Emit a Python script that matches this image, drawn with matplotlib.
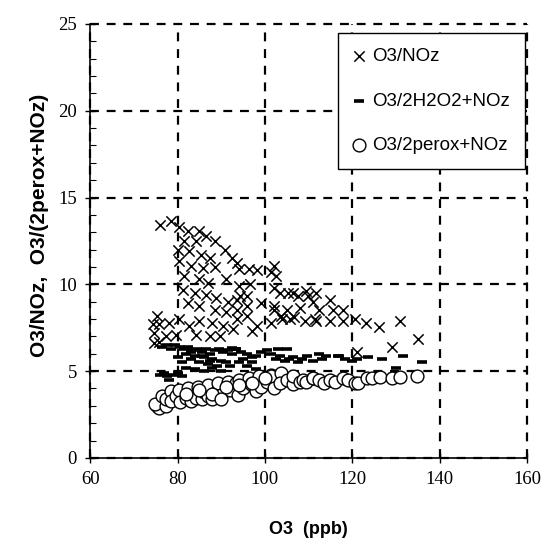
import numpy as np
import matplotlib.pyplot as plt

# O3/NOz  (crosses)
x_nox = [76.1, 78.4, 80.4, 82.3, 85.0, 86.6, 88.5, 81.6, 84.3, 90.9, 80.0, 82.7, 85.4, 87.4,
         92.4, 93.6, 80.4, 83.1, 85.8, 88.5, 96.3, 98.2, 102.1, 102.5, 101.3, 81.6, 85.0, 87.0,
         91.2, 94.0, 96.7, 102.1, 105.2, 107.5, 109.8, 111.8, 81.2, 83.9, 86.6, 88.9, 91.6, 94.3,
         95.9, 82.3, 85.0, 88.5, 91.2, 93.6, 102.1, 103.6, 106.7, 109.1, 111.4, 74.4, 75.7, 75.3,
         78.1, 80.4, 82.7, 85.0, 87.8, 90.5, 92.8, 74.6, 77.3, 75.7, 79.6, 84.3, 87.4, 89.7, 98.2,
         101.3, 104.0, 94.0, 93.7, 96.0, 93.7, 96.0, 103.5, 106.5, 109.5, 114.8, 102.0, 105.0, 108.0,
         111.0, 112.5, 115.5, 117.8, 105.8, 111.8, 114.8, 117.8, 120.7, 123.2, 126.1, 121.1, 129.1,
         131.0, 135.0, 74.6, 97.0, 99.0]
y_nox = [13.4, 13.65, 13.3, 13.1, 13.1, 12.8, 12.5, 12.5, 12.5, 12.0, 12.0, 11.9, 11.7, 11.5,
         11.5, 11.25, 11.35, 11.05, 10.96, 11.0, 10.9, 10.8, 11.05, 10.5, 10.7, 10.5, 10.3, 10.1,
         10.3, 9.9, 10.0, 9.8, 9.5, 9.3, 9.3, 9.5, 9.7, 9.5, 9.4, 9.2, 9.0, 9.3,
         8.75, 8.9, 8.75, 8.55, 8.4, 8.5, 8.75, 8.2, 8.1, 7.9, 8.0, 7.7, 7.7, 8.2,
         7.8, 8.0, 7.6, 7.9, 7.8, 7.6, 7.4, 7.2, 7.0, 6.7, 7.1, 7.1, 7.0, 7.0, 7.6,
         7.8, 8.0, 10.9, 9.1, 9.3, 8.0, 8.2, 9.5, 9.5, 9.6, 9.1, 8.55, 8.55, 8.65,
         9.0, 8.5, 8.5, 8.55, 8.0, 7.9, 7.9, 7.9, 8.0, 7.8, 7.55, 6.1, 6.4,
         7.9, 6.85, 6.6, 7.3, 8.9]

# O3/2H2O2+NOz  (dashes)
x_h2o2 = [76.5, 77.5, 78.5, 79.5, 80.5, 81.5, 82.5, 83.5, 84.5, 85.5, 86.5, 87.5, 88.5, 89.5,
          90.5, 91.5, 92.5, 93.5, 94.5, 82.0, 84.0, 86.0, 88.0, 90.0, 83.0, 85.0, 87.0, 89.0,
          91.0, 80.0, 81.0, 82.0, 84.0, 86.0, 88.0, 90.0, 92.0, 94.0, 77.0, 77.5, 78.0, 79.0,
          80.0, 81.0, 76.0, 96.0, 97.0, 98.0, 99.0, 100.5, 101.5, 102.5, 103.5, 104.5, 105.5,
          106.5, 107.5, 108.5, 109.6, 111.0, 113.0, 114.0, 116.8, 118.4, 120.0, 121.0, 123.6,
          126.7, 131.6, 130.0, 135.9, 96.0, 98.0, 97.0, 95.0, 92.5, 93.5, 103.0, 105.0, 112.5,
          117.0, 83.0, 85.5, 87.5]
y_h2o2 = [6.4, 6.5, 6.3, 6.5, 6.4, 6.3, 6.4, 6.2, 6.3, 6.1, 6.3, 6.0, 6.2, 6.3,
          6.1, 6.2, 6.0, 6.3, 6.1, 6.0, 5.9, 5.8, 5.7, 5.6, 5.7, 5.5, 5.4, 5.3,
          5.5, 5.8, 5.5, 5.2, 5.1, 5.0, 5.2, 5.0, 5.3, 5.5, 4.9, 4.7, 4.5, 4.8,
          4.9, 4.7, 4.8, 6.0, 5.8, 5.9, 6.1, 6.2, 6.0, 5.7, 5.9, 5.6, 5.7,
          5.8, 5.5, 5.7, 5.9, 5.6, 5.7, 5.9, 5.9, 5.7, 5.6, 5.7, 5.8,
          5.7, 5.9, 5.2, 5.5, 5.3, 5.1, 5.5, 5.7, 6.35, 6.25, 6.25, 6.25, 5.96,
          5.9, 6.1, 5.9, 5.6]

# O3/2perox+NOz  (circles)
x_perox = [75.2, 75.8, 76.3, 74.8, 76.5, 77.3, 77.3, 78.4, 78.5, 79.6, 80.4, 80.5, 81.9, 82.3,
           83.0, 84.3, 84.6, 85.5, 86.0, 87.0, 87.0, 88.0, 89.3, 89.3, 90.0, 91.6, 92.0, 93.4,
           93.8, 94.0, 95.0, 96.3, 96.8, 97.9, 98.6, 99.0, 100.5, 101.3, 101.3, 102.0, 103.6,
           103.5, 105.0, 106.5, 106.4, 108.0, 108.7, 109.5, 111.0, 111.1, 112.5, 113.5, 114.9,
           116.0, 117.9, 119.0, 120.7, 121.3, 123.3, 124.5, 126.4, 129.0, 131.0, 134.8, 82.0,
           85.0, 88.0, 91.0, 94.0, 97.0, 100.0, 90.0]
y_perox = [3.0, 2.9, 3.2, 3.1, 3.55, 3.0, 3.37, 3.85, 3.3, 3.55, 3.9, 3.2, 3.47, 4.0,
           3.3, 3.47, 4.1, 3.4, 3.8, 3.55, 4.2, 3.4, 3.95, 4.3, 3.6, 4.4, 3.9, 4.33,
           3.65, 4.5, 4.0, 4.6, 4.23, 3.85, 4.7, 4.1, 4.4, 4.8, 4.7, 4.0, 4.87,
           4.3, 4.5, 4.23, 4.7, 4.4, 4.5, 4.4, 4.6, 4.59, 4.5, 4.3, 4.49,
           4.4, 4.6, 4.5, 4.33, 4.3, 4.6, 4.6, 4.66, 4.63, 4.68, 4.72, 3.7,
           3.9, 3.7, 4.1, 4.2, 4.3, 4.6, 3.4]

x_ticks = [60, 80, 100, 120, 140, 160]
y_ticks = [0, 5, 10, 15, 20, 25]

fig = plt.figure(figsize=(5.43, 5.4), dpi=100)
ax = fig.add_axes([0.166, 0.152, 0.8045, 0.8036])

ax.scatter(x_nox, y_nox, marker='x', s=55, c='black', linewidths=1.1, label='O3/NOz', zorder=3)
ax.scatter(x_h2o2, y_h2o2, marker='_', s=45, c='black', linewidths=2.6, label='O3/2H2O2+NOz', zorder=4)
ax.scatter(x_perox, y_perox, marker='o', s=85, facecolors='white', edgecolors='black',
           linewidths=1.0, label='O3/2perox+NOz', zorder=5)

ax.set_xlim(60, 160)
ax.set_ylim(0, 25)
ax.set_xticks(x_ticks)
ax.set_yticks(y_ticks)
ax.set_yticks(np.arange(0, 26, 1), minor=True)
ax.tick_params(axis='both', which='major', direction='inout', length=7, width=1,
               labelsize=13.5, pad=6)
ax.tick_params(axis='y', which='minor', direction='in', length=4, width=0.8)
for lab in ax.get_xticklabels() + ax.get_yticklabels():
    lab.set_fontfamily('Liberation Serif')

ax.spines['top'].set_visible(False)
ax.spines['right'].set_visible(False)
ax.spines['left'].set_linewidth(1.2)
ax.spines['bottom'].set_linewidth(1.2)

ax.grid(True, which='major', color='black', linestyle=(0, (4, 3.5)), linewidth=1.6)
for gl in ax.get_xgridlines() + ax.get_ygridlines():
    gl.set_clip_on(False)
ax.set_axisbelow(True)

ax.set_xlabel('O3  (ppb)', fontfamily='Liberation Sans', fontweight='bold', fontsize=13,
              labelpad=24)
ax.set_ylabel('O3/NOz,  O3/(2perox+NOz)', fontfamily='Liberation Sans', fontweight='bold',
              fontsize=15)
ax.yaxis.set_label_coords(-0.094, 0.535)

leg = ax.legend(loc='upper right', bbox_to_anchor=(0.9954, 0.979), frameon=True, fancybox=False,
                edgecolor='black', framealpha=1, prop={'family': 'Liberation Sans', 'size': 13.5},
                labelspacing=1.45, borderpad=0.8, handlelength=0.6, handletextpad=0.4,
                borderaxespad=0, scatterpoints=1)
leg.get_frame().set_linewidth(1.0)

fig.savefig('out.png', dpi=100)
